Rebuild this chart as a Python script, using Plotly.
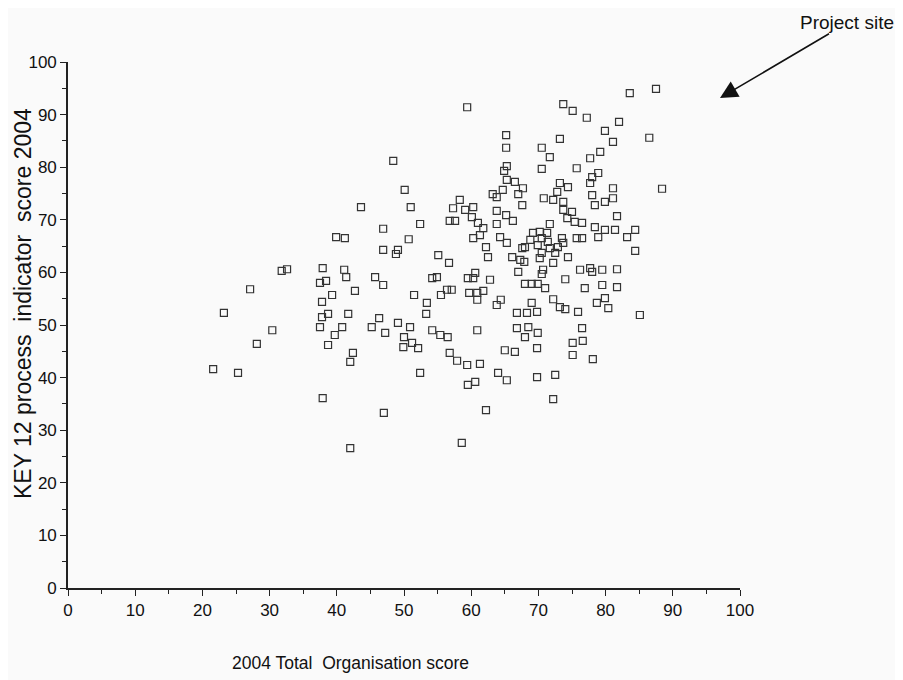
import plotly.graph_objects as go

# 2004 Total Organisation score (x) and KEY 12 process indicator score 2004 (y)
org_score = [
    21.6, 23.2, 25.3, 27.1, 28.1, 30.4, 31.8, 32.6, 37.5, 38.4, 37.9, 37.8, 39.3, 38.7, 37.8, 37.5,
    40.8, 39.7, 38.7, 37.9, 39.9, 41.2, 41.1, 41.4, 42.7, 41.7, 42.4, 42.0, 42.0, 43.6, 45.7, 46.9,
    46.3, 45.2, 47.2, 46.9, 46.9, 47.0,
    48.4, 50.1, 51.0, 52.4, 50.7, 49.1, 48.8, 51.5, 53.4, 53.3, 49.1, 50.9, 50.0, 49.9, 51.2, 52.1,
    54.2, 55.4, 56.5, 52.4, 54.2, 54.9, 55.1, 56.7, 55.5, 56.4, 57.1,
    59.4, 65.2, 65.2, 65.3, 64.9, 65.3, 66.5, 67.7, 64.7, 63.2, 63.8, 67.0, 58.3, 57.3, 59.1, 60.3,
    67.6, 56.8, 57.6, 63.8, 65.2, 66.2, 63.8, 61.0, 61.8, 61.3, 60.3, 60.1, 64.3, 65.3, 62.2, 62.5,
    66.1, 67.3, 67.9, 67.0, 60.6, 60.3, 59.5, 62.8, 59.7, 60.9, 61.8, 60.9, 63.8, 64.4,
    83.6, 87.5, 73.7, 75.1, 77.2, 82.0, 79.9, 73.2, 81.1, 86.5, 70.5, 71.7, 79.2, 77.7, 70.5, 75.7,
    78.0, 78.9, 77.7, 73.2, 74.4, 72.8, 81.1, 81.1, 79.9, 88.4, 70.8, 72.2, 73.7, 73.7, 75.0, 74.3,
    78.0, 78.4, 81.7, 75.4, 76.5, 71.7, 78.4, 78.9, 79.9, 81.4, 83.2, 84.4, 84.4, 75.7, 76.5, 69.2,
    70.2, 71.3, 70.5, 68.8, 71.4, 73.5, 73.7, 68.0, 69.9, 71.7, 72.9, 72.5, 72.2, 74.4, 70.5, 67.6,
    70.2, 70.7, 76.2, 77.7, 78.0, 79.5, 81.7, 74.0, 70.5, 68.0, 69.0, 69.9, 71.0, 76.9, 79.5, 81.7,
    72.2,
    69.0, 68.3, 69.8, 73.2, 74.0, 75.9, 78.7, 79.9, 80.4, 85.1, 66.8, 66.8, 68.5, 68.0, 69.9, 76.5,
    75.1, 76.6, 69.8, 75.1, 78.1, 69.8, 72.5, 72.2, 60.9, 65.0, 66.5, 56.8, 57.9, 59.4, 61.3, 64.0,
    65.3, 59.5, 60.6, 62.2, 58.6,
]
key12_score = [
    41.6, 52.3, 40.9, 56.8, 46.4, 49.0, 60.3, 60.6, 58.0, 58.4, 60.8, 54.4, 55.7, 52.1, 51.5, 49.6,
    49.6, 48.1, 46.2, 36.1, 66.7, 66.5, 60.5, 59.1, 56.5, 52.1, 44.7, 43.0, 26.6, 72.4, 59.1, 57.6,
    51.3, 49.6, 48.5, 68.3, 64.3, 33.3,
    81.2, 75.7, 72.4, 69.2, 66.3, 64.3, 63.5, 55.7, 54.2, 52.1, 50.4, 49.6, 47.7, 45.8, 46.6, 45.6,
    49.0, 48.1, 47.7, 40.9, 58.9, 59.1, 63.3, 61.8, 55.7, 56.7, 56.7,
    91.4, 86.1, 83.7, 80.2, 79.3, 77.6, 77.2, 76.0, 75.7, 74.9, 74.3, 74.9, 73.8, 72.2, 71.9, 72.4,
    72.8, 69.8, 69.8, 71.7, 70.9, 69.8, 69.2, 69.4, 68.4, 67.1, 66.5, 70.5, 66.7, 65.6, 64.8, 62.9,
    62.9, 62.4, 62.0, 60.1, 59.9, 58.9, 58.9, 58.6, 56.1, 56.1, 56.5, 54.8, 53.8, 54.8,
    94.1, 94.9, 92.0, 90.7, 89.4, 88.6, 86.9, 85.4, 84.8, 85.6, 83.7, 81.9, 82.9, 81.7, 79.7, 79.8,
    78.1, 78.9, 77.0, 77.0, 76.2, 75.3, 76.0, 74.1, 73.4, 75.9, 74.1, 73.8, 73.4, 71.9, 71.5, 70.3,
    74.7, 72.8, 70.7, 69.6, 69.4, 69.2, 68.6, 66.7, 68.1, 68.1, 66.7, 68.1, 64.1, 66.5, 66.5, 67.5,
    67.7, 67.5, 66.5, 66.2, 65.8, 66.5, 65.6, 64.8, 65.2, 64.6, 64.8, 63.7, 61.8, 62.9, 63.7, 64.6,
    62.7, 60.5, 60.5, 60.8, 60.1, 60.5, 60.6, 58.7, 59.7, 57.8, 57.8, 57.8, 57.0, 57.0, 57.6, 57.2,
    54.9,
    54.2, 52.3, 52.5, 53.4, 53.0, 52.5, 54.2, 55.1, 53.2, 51.9, 52.3, 49.4, 49.6, 47.7, 48.5, 49.4,
    46.6, 47.0, 45.6, 44.3, 43.5, 40.1, 40.5, 35.9, 49.0, 45.2, 44.9, 44.7, 43.2, 42.4, 42.6, 40.9,
    39.5, 38.6, 39.2, 33.8, 27.6,
]

tick_vals = [0, 10, 20, 30, 40, 50, 60, 70, 80, 90, 100]
tick_text = [str(v) for v in tick_vals]

x_title = "2004 Total  Organisation score"
y_title = "KEY 12 process  indicator  score 2004"
note_text = "Project site"

font_family = "Liberation Sans, Arial, sans-serif"

fig = go.Figure()
fig.add_trace(go.Scatter(
    x=org_score, y=key12_score, mode="markers",
    marker=dict(symbol="square-open", size=7, color="#333333", line=dict(width=1.2, color="#333333")),
    cliponaxis=False, showlegend=False, hoverinfo="x+y",
))

axis_common = dict(
    range=[0, 100], tickvals=tick_vals, ticktext=tick_text,
    showgrid=False, zeroline=False, showline=True, linecolor="#222222", linewidth=1.6,
    ticks="outside", ticklen=6, tickwidth=1.3, tickcolor="#222222",
    minor=dict(dtick=5, ticks="outside", ticklen=4, tickwidth=1.2, tickcolor="#222222"),
    tickfont=dict(family=font_family, size=17, color="#111111"),
)

# page offset of 8px (body margin) is compensated in the margins
fig.update_layout(
    width=895, height=672,
    margin=dict(l=60, r=163, t=54, b=92),
    paper_bgcolor="#fafafa", plot_bgcolor="#fafafa",
    font=dict(family=font_family, color="#111111"),
    xaxis=dict(**axis_common),
    yaxis=dict(**axis_common),
    annotations=[
        dict(text=x_title, xref="paper", yref="paper", x=(350 - 68) / 672, y=-75 / 526,
             xanchor="center", yanchor="middle", showarrow=False,
             font=dict(size=17.5, family=font_family, color="#111111")),
        dict(text=y_title, xref="paper", yref="paper", x=(23 - 68) / 672, y=(588 - 304) / 526,
             xanchor="center", yanchor="middle", textangle=-90, showarrow=False,
             font=dict(size=23, family=font_family, color="#111111")),
        dict(text=note_text, xref="paper", yref="paper", x=(847 - 68) / 672, y=(588 - 22) / 526,
             xanchor="center", yanchor="middle", showarrow=False,
             font=dict(size=19, family=font_family, color="#111111")),
        dict(text=" ", xref="paper", yref="paper", x=(720 - 68) / 672, y=(588 - 98) / 526,
             showarrow=True, arrowhead=2, arrowsize=2.2, arrowwidth=1.6, arrowcolor="#111111",
             axref="pixel", ayref="pixel", ax=112, ay=-66),
    ],
)

fig.write_html("out.html")
